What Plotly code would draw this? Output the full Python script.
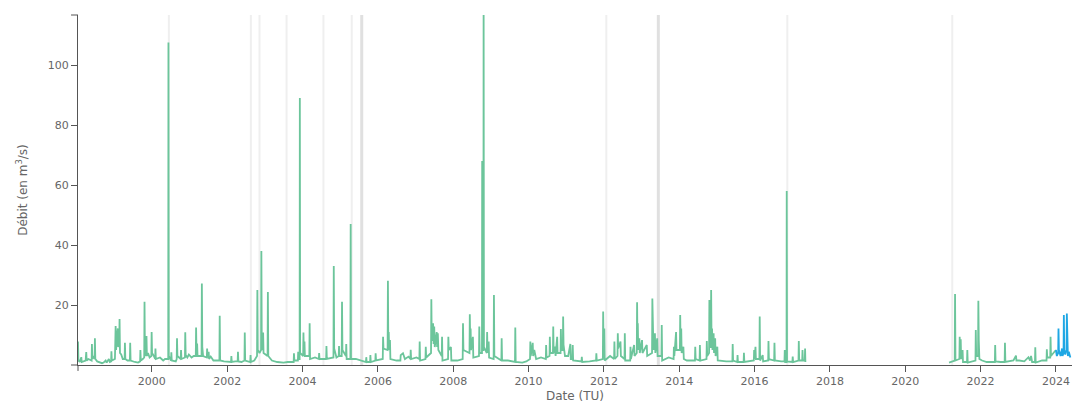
import plotly.graph_objects as go

DATES_OBS = [
    "1998-01-15", "1998-01-19", "1998-02-01", "1998-02-16", "1998-02-20", "1998-03-10",
    "1998-03-30", "1998-04-05", "1998-04-09", "1998-04-25", "1998-05-27", "1998-05-30",
    "1998-06-03", "1998-06-15", "1998-06-25", "1998-06-28", "1998-07-02", "1998-07-20",
    "1998-08-15", "1998-09-05", "1998-09-20", "1998-10-10", "1998-10-20", "1998-11-10",
    "1998-11-20", "1998-12-02", "1998-12-05", "1998-12-09", "1999-01-08", "1999-01-15",
    "1999-01-19", "1999-01-23", "1999-02-05", "1999-02-09", "1999-02-19", "1999-02-22",
    "1999-02-26", "1999-03-10", "1999-03-25", "1999-04-12", "1999-04-15", "1999-04-19",
    "1999-05-10", "1999-06-02", "1999-06-05", "1999-06-09", "1999-07-20", "1999-08-20",
    "1999-09-09", "1999-09-12", "1999-09-16", "1999-10-05", "1999-10-19", "1999-10-22",
    "1999-10-26", "1999-11-07", "1999-11-10", "1999-11-14", "1999-11-25", "1999-12-10",
    "1999-12-27", "1999-12-30", "2000-01-03", "2000-01-20", "2000-02-02", "2000-02-05",
    "2000-02-09", "2000-03-20", "2000-04-20", "2000-05-08", "2000-06-08", "2000-06-10",
    "2000-06-13", "2000-07-05", "2000-07-08", "2000-07-12", "2000-08-20", "2000-08-29",
    "2000-09-01", "2000-09-05", "2000-10-07", "2000-10-10", "2000-10-14", "2000-11-17",
    "2000-11-20", "2000-11-24", "2000-12-10", "2000-12-25", "2001-01-20", "2001-02-10",
    "2001-03-02", "2001-03-05", "2001-03-09", "2001-03-15", "2001-03-19", "2001-04-27",
    "2001-04-30", "2001-05-04", "2001-05-12", "2001-06-17", "2001-06-20", "2001-06-24",
    "2001-07-05", "2001-07-09", "2001-07-25", "2001-08-20", "2001-09-10", "2001-10-17",
    "2001-10-20", "2001-10-24", "2001-12-01", "2002-01-10", "2002-02-07", "2002-02-10",
    "2002-02-14", "2002-03-20", "2002-04-12", "2002-04-15", "2002-04-19", "2002-05-20",
    "2002-06-17", "2002-06-20", "2002-06-24", "2002-08-12", "2002-08-15", "2002-08-19",
    "2002-09-20", "2002-10-17", "2002-10-20", "2002-10-24", "2002-11-10", "2002-11-25",
    "2002-11-28", "2002-12-02", "2002-12-12", "2002-12-15", "2002-12-19", "2003-01-27",
    "2003-01-30", "2003-02-03", "2003-03-10", "2003-05-01", "2003-07-01", "2003-08-10",
    "2003-10-07", "2003-10-10", "2003-10-14", "2003-11-17", "2003-11-20", "2003-11-24",
    "2003-12-04", "2003-12-06", "2003-12-09", "2004-01-07", "2004-01-10", "2004-01-14",
    "2004-01-20", "2004-01-24", "2004-03-07", "2004-03-10", "2004-03-14", "2004-05-01",
    "2004-06-07", "2004-06-10", "2004-06-14", "2004-08-17", "2004-08-20", "2004-08-24",
    "2004-10-27", "2004-10-30", "2004-11-03", "2004-11-25", "2004-12-17", "2004-12-20",
    "2004-12-24", "2005-01-15", "2005-01-18", "2005-01-22", "2005-02-25", "2005-02-28",
    "2005-03-04", "2005-04-09", "2005-04-12", "2005-04-15", "2005-06-01", "2005-07-15",
    "2005-09-07", "2005-09-10", "2005-09-14", "2005-10-17", "2005-10-20", "2005-10-24",
    "2005-12-07", "2005-12-10", "2005-12-14", "2006-02-17", "2006-02-20", "2006-02-24",
    "2006-04-05", "2006-04-08", "2006-04-12", "2006-04-16", "2006-04-20", "2006-04-28",
    "2006-05-02", "2006-07-01", "2006-08-07", "2006-08-10", "2006-09-01", "2006-09-20",
    "2006-10-25", "2006-11-12", "2006-11-15", "2006-11-19", "2007-01-10", "2007-02-07",
    "2007-02-10", "2007-02-14", "2007-04-07", "2007-04-10", "2007-04-14", "2007-05-31",
    "2007-06-03", "2007-06-07", "2007-06-20", "2007-06-25", "2007-07-01", "2007-07-06",
    "2007-07-25", "2007-07-29", "2007-08-05", "2007-08-10", "2007-09-12", "2007-09-15",
    "2007-09-19", "2007-11-12", "2007-11-15", "2007-11-19", "2007-12-10", "2007-12-14",
    "2008-02-10", "2008-04-02", "2008-04-05", "2008-04-09", "2008-06-07", "2008-06-10",
    "2008-06-14", "2008-06-18", "2008-06-22", "2008-07-10", "2008-07-14", "2008-09-07",
    "2008-09-10", "2008-09-14", "2008-10-06", "2008-10-08", "2008-10-11", "2008-10-20",
    "2008-10-22", "2008-10-25", "2008-11-22", "2008-11-25", "2008-11-29", "2008-12-10",
    "2008-12-14", "2009-01-27", "2009-01-30", "2009-02-03", "2009-04-12", "2009-04-15",
    "2009-04-19", "2009-06-15", "2009-08-22", "2009-08-25", "2009-08-29", "2009-11-01",
    "2009-12-10", "2010-01-15", "2010-01-18", "2010-01-22", "2010-02-10", "2010-02-14",
    "2010-02-25", "2010-03-15", "2010-05-01", "2010-06-17", "2010-06-20", "2010-06-24",
    "2010-07-23", "2010-07-26", "2010-07-30", "2010-08-25", "2010-08-28", "2010-09-01",
    "2010-09-10", "2010-09-20", "2010-10-05", "2010-10-09", "2010-11-07", "2010-11-10",
    "2010-11-14", "2010-11-29", "2010-12-02", "2010-12-06", "2010-12-20", "2011-01-20",
    "2011-02-10", "2011-02-14", "2011-03-02", "2011-03-05", "2011-03-09", "2011-05-01",
    "2011-05-29", "2011-06-01", "2011-06-05", "2011-08-15", "2011-10-17", "2011-10-20",
    "2011-10-24", "2011-12-22", "2011-12-25", "2011-12-29", "2012-01-05", "2012-01-09",
    "2012-03-01", "2012-04-09", "2012-04-12", "2012-04-16", "2012-05-12", "2012-05-15",
    "2012-05-19", "2012-06-10", "2012-06-14", "2012-07-19", "2012-07-22", "2012-07-26",
    "2012-09-12", "2012-09-15", "2012-09-19", "2012-10-20", "2012-10-24", "2012-11-15",
    "2012-11-18", "2012-11-22", "2012-11-25", "2012-11-29", "2012-12-10", "2012-12-14",
    "2013-01-05", "2013-01-09", "2013-01-25", "2013-02-20", "2013-02-24", "2013-04-12",
    "2013-04-15", "2013-04-19", "2013-04-22", "2013-04-26", "2013-05-10", "2013-05-14",
    "2013-06-01", "2013-06-05", "2013-07-12", "2013-07-15", "2013-07-19", "2013-09-20",
    "2013-11-07", "2013-11-10", "2013-11-14", "2013-12-01", "2013-12-05", "2014-01-07",
    "2014-01-10", "2014-01-14", "2014-01-20", "2014-01-24", "2014-02-10", "2014-02-14",
    "2014-03-15", "2014-06-02", "2014-06-05", "2014-06-09", "2014-07-17", "2014-07-20",
    "2014-07-24", "2014-09-22", "2014-09-25", "2014-09-29", "2014-10-17", "2014-10-20",
    "2014-10-24", "2014-11-03", "2014-11-06", "2014-11-10", "2014-11-15", "2014-11-19",
    "2014-11-30", "2014-12-04", "2014-12-15", "2014-12-19", "2015-01-05", "2015-01-09",
    "2015-04-01", "2015-05-31", "2015-06-03", "2015-06-07", "2015-07-17", "2015-07-20",
    "2015-07-24", "2015-09-17", "2015-09-20", "2015-09-24", "2015-12-25", "2015-12-28",
    "2016-01-01", "2016-01-10", "2016-01-14", "2016-02-17", "2016-02-20", "2016-02-24",
    "2016-03-20", "2016-03-24", "2016-05-12", "2016-05-15", "2016-05-19", "2016-07-09",
    "2016-07-12", "2016-07-16", "2016-09-15", "2016-10-17", "2016-10-20", "2016-10-24",
    "2016-11-06", "2016-11-08", "2016-11-11", "2017-01-02", "2017-01-05", "2017-01-09",
    "2017-03-02", "2017-03-05", "2017-03-09", "2017-04-07", "2017-04-10", "2017-04-14",
    "2017-05-02", "2017-05-05", "2017-05-08", None, "2021-03-01", "2021-04-10",
    "2021-04-25", "2021-04-28", "2021-05-02", "2021-06-09", "2021-06-12", "2021-06-16",
    "2021-06-22", "2021-06-26", "2021-07-10", "2021-07-14", "2021-08-22", "2021-08-25",
    "2021-08-29", "2021-11-12", "2021-11-15", "2021-11-19", "2021-12-07", "2021-12-10",
    "2021-12-14", "2021-12-20", "2022-01-15", "2022-03-01", "2022-05-19", "2022-05-22",
    "2022-05-26", "2022-07-15", "2022-08-22", "2022-08-25", "2022-08-29", "2022-11-15",
    "2022-12-10", "2022-12-14", "2023-01-10", "2023-03-01", "2023-04-10", "2023-04-25",
    "2023-05-05", "2023-05-15", "2023-06-12", "2023-06-15", "2023-06-19", "2023-08-20",
    "2023-10-02", "2023-10-05", "2023-10-09", "2023-11-07", "2023-11-10", "2023-11-14",
    "2023-12-20", "2024-01-01",
]
FLOW_OBS = [
    7.8, 1.5, 1.0, 2.6, 1.0, 1.2,
    1.5, 4.3, 1.5, 2.0, 1.5, 7.0,
    2.0, 3.0, 2.0, 8.9, 2.0, 1.2,
    1.0, 0.6, 0.8, 1.5, 0.8, 2.0,
    1.0, 1.2, 4.6, 1.5, 2.0, 13.0,
    5.0, 7.0, 12.2, 6.0, 7.0, 15.3,
    4.0, 3.5, 2.0, 2.0, 7.4, 2.0,
    1.5, 1.5, 7.4, 1.5, 1.0, 0.8,
    1.2, 5.0, 1.5, 2.0, 2.5, 21.1,
    4.0, 3.0, 9.7, 3.0, 4.0, 2.5,
    3.0, 11.0, 4.0, 3.0, 2.0, 5.5,
    2.0, 2.5, 1.5, 2.0, 2.0, 107.5,
    3.0, 1.5, 4.2, 1.5, 1.2, 2.0,
    8.9, 3.0, 2.0, 5.0, 2.0, 2.5,
    10.9, 3.3, 2.5, 3.5, 2.5, 3.0,
    3.0, 12.5, 4.0, 7.2, 3.0, 3.0,
    27.2, 6.1, 3.0, 2.5, 5.5, 2.5,
    4.4, 2.0, 2.8, 1.5, 1.5, 1.5,
    16.4, 1.5, 1.2, 1.0, 1.0, 3.0,
    1.0, 1.2, 1.2, 4.4, 1.2, 1.0,
    1.5, 10.8, 1.5, 1.0, 3.3, 1.0,
    1.5, 3.0, 25.0, 5.0, 4.0, 5.0,
    38.0, 6.0, 5.0, 10.8, 4.0, 3.0,
    24.3, 3.0, 1.5, 1.0, 0.8, 1.0,
    1.0, 3.9, 1.5, 1.5, 4.4, 2.0,
    2.0, 89.0, 4.0, 3.0, 10.8, 4.0,
    7.8, 3.0, 3.0, 13.9, 2.0, 2.5,
    2.0, 4.0, 2.0, 2.0, 6.3, 2.0,
    2.5, 33.0, 5.5, 2.5, 3.0, 6.3,
    3.0, 3.0, 21.1, 5.0, 3.0, 7.0,
    2.0, 2.0, 47.0, 2.0, 2.0, 1.5,
    1.0, 2.6, 1.0, 1.0, 3.3, 1.0,
    1.5, 3.9, 1.5, 2.0, 9.4, 5.5,
    5.0, 28.1, 6.0, 11.0, 5.0, 8.3,
    2.0, 1.5, 1.5, 3.3, 3.9, 2.0,
    2.8, 2.0, 5.1, 2.0, 2.5, 2.0,
    7.8, 1.5, 2.0, 6.1, 2.5, 4.0,
    21.9, 8.0, 13.9, 7.0, 12.8, 6.0,
    11.0, 6.0, 10.6, 5.0, 3.0, 9.4,
    1.5, 2.0, 9.4, 5.0, 6.0, 1.5,
    1.5, 2.0, 13.9, 5.0, 4.0, 16.9,
    8.0, 12.2, 5.0, 9.4, 2.5, 3.0,
    12.8, 4.0, 4.0, 68.0, 5.0, 5.0,
    125.0, 6.0, 4.0, 11.0, 4.0, 7.8,
    2.5, 2.0, 23.3, 3.0, 1.5, 8.9,
    1.5, 1.5, 1.0, 12.5, 1.0, 0.8,
    1.2, 2.0, 7.8, 3.0, 7.4, 3.0,
    5.0, 2.0, 2.5, 2.0, 6.7, 2.5,
    3.0, 9.4, 4.0, 4.0, 12.8, 4.0,
    6.1, 3.0, 9.4, 4.0, 4.0, 12.0,
    5.0, 5.0, 16.2, 6.7, 3.0, 3.0,
    7.0, 2.0, 2.0, 6.7, 1.5, 1.2,
    1.2, 2.7, 1.0, 1.2, 1.5, 3.9,
    1.5, 2.0, 17.8, 5.0, 12.2, 1.5,
    3.0, 2.0, 7.8, 2.0, 3.0, 10.6,
    5.5, 7.8, 3.0, 2.0, 10.6, 1.5,
    1.5, 6.1, 2.0, 6.7, 3.0, 4.0,
    20.9, 7.0, 13.9, 5.0, 8.9, 4.0,
    8.3, 4.0, 5.0, 6.7, 3.0, 4.0,
    22.2, 6.0, 12.2, 5.0, 10.6, 4.0,
    8.9, 3.0, 3.0, 13.3, 1.5, 2.5,
    2.0, 6.1, 3.0, 11.0, 5.0, 5.0,
    16.7, 6.0, 12.2, 4.0, 6.1, 2.0,
    1.5, 1.5, 6.1, 2.0, 1.5, 6.7,
    1.5, 2.0, 8.0, 3.0, 4.0, 21.7,
    6.0, 6.0, 25.0, 8.0, 12.2, 5.0,
    10.6, 4.0, 8.9, 3.0, 6.1, 1.5,
    1.2, 1.2, 7.0, 1.5, 1.0, 3.3,
    1.0, 1.0, 4.1, 1.0, 1.5, 5.0,
    2.0, 6.1, 2.0, 2.0, 16.2, 1.5,
    3.3, 1.2, 1.5, 8.0, 2.0, 1.5,
    7.4, 1.5, 1.2, 1.2, 5.0, 1.0,
    1.0, 58.0, 1.2, 1.0, 2.8, 1.0,
    1.5, 8.0, 1.5, 1.5, 5.0, 1.5,
    1.5, 5.5, 1.0, None, 0.8, 1.5,
    1.5, 23.7, 1.5, 2.0, 9.4, 3.0,
    8.6, 2.0, 5.0, 1.0, 1.0, 5.0,
    0.8, 1.5, 11.7, 3.0, 3.0, 21.4,
    8.3, 2.0, 1.5, 1.0, 1.0, 6.7,
    1.2, 1.0, 1.0, 7.4, 1.0, 1.5,
    3.1, 1.5, 1.5, 1.2, 2.6, 1.5,
    3.0, 1.0, 1.0, 5.9, 0.8, 1.5,
    1.5, 5.2, 2.5, 2.5, 9.4, 3.0,
    4.5, 5.0,
]

# blue series (recent data, 2024)
DATES_RECENT = ["2024-01-01", "2024-01-10", "2024-01-23", "2024-01-26", "2024-01-30", "2024-02-15",
                "2024-03-01", "2024-03-05", "2024-03-15", "2024-03-18", "2024-03-22", "2024-04-01",
                "2024-04-13", "2024-04-16", "2024-04-20", "2024-04-26", "2024-05-05", "2024-05-20"]
FLOW_RECENT = [5.0, 3.0, 4.0, 12.2, 5.0, 3.0,
               5.5, 3.0, 4.0, 16.7, 5.0, 3.5,
               5.0, 17.2, 7.8, 3.0, 4.4, 2.5]

# grey vertical markers
VLINE_DATES = ["2000-06-14", "2002-08-18", "2002-11-10", "2003-07-30", "2004-07-22",
               "2005-04-22", "2012-01-25", "2016-11-14", "2021-04-01"]
VLINE_DARK_DATES = ["2005-07-28", "2013-06-12"]

X_TICKS = ["2000-01-01", "2002-01-01", "2004-01-01", "2006-01-01", "2008-01-01", "2010-01-01",
           "2012-01-01", "2014-01-01", "2016-01-01", "2018-01-01", "2020-01-01", "2022-01-01",
           "2024-01-01"]
Y_TICKS = [20, 40, 60, 80, 100]

AXIS_COL = "#555555"
TEXT_COL = "#666666"
FONT = "DejaVu Sans"

fig = go.Figure()

shapes = []
for d in VLINE_DATES:
    shapes.append(dict(type="line", xref="x", yref="paper", x0=d, x1=d, y0=0, y1=1,
                       line=dict(color="#efefef", width=2), layer="below"))
for d in VLINE_DARK_DATES:
    shapes.append(dict(type="line", xref="x", yref="paper", x0=d, x1=d, y0=0, y1=1,
                       line=dict(color="#e0e0e0", width=3), layer="below"))

# d3-style outer ticks at the axis ends
shapes.append(dict(type="line", xref="paper", yref="paper", x0=0, x1=0, y0=0, y1=-0.017,
                   line=dict(color=AXIS_COL, width=1)))
shapes.append(dict(type="line", xref="paper", yref="paper", x0=-0.007, x1=0, y0=1, y1=1,
                   line=dict(color=AXIS_COL, width=1)))
shapes.append(dict(type="line", xref="paper", yref="paper", x0=-0.007, x1=0, y0=0, y1=0,
                   line=dict(color=AXIS_COL, width=1)))

fig.add_trace(go.Scatter(x=DATES_OBS, y=FLOW_OBS, mode="lines", connectgaps=False,
                         line=dict(color="#6cc59b", width=1.8), showlegend=False))
fig.add_trace(go.Scatter(x=DATES_RECENT, y=FLOW_RECENT, mode="lines",
                         line=dict(color="#1ea7e4", width=1.8), showlegend=False))

fig.update_layout(
    width=1074, height=403,
    margin=dict(l=78, r=2, t=15, b=38),
    paper_bgcolor="white", plot_bgcolor="white",
    font=dict(family=FONT, size=11, color=TEXT_COL),
    shapes=shapes,
    showlegend=False,
)
fig.update_xaxes(
    type="date", range=["1998-01-15", "2024-06-05"],
    tickvals=X_TICKS, tickformat="%Y",
    showgrid=False, zeroline=False,
    showline=True, linecolor=AXIS_COL, linewidth=1,
    ticks="outside", ticklen=6, tickcolor=AXIS_COL,
    tickfont=dict(family=FONT, size=11, color=TEXT_COL),
    title=dict(text="Date (TU)", font=dict(family=FONT, size=12, color=TEXT_COL), standoff=7),
    automargin=False,
)
fig.update_yaxes(
    range=[0, 116.7], tickvals=Y_TICKS,
    showgrid=False, zeroline=False,
    showline=True, linecolor=AXIS_COL, linewidth=1,
    ticks="outside", ticklen=6, tickcolor=AXIS_COL,
    tickfont=dict(family=FONT, size=11, color=TEXT_COL),
    title=dict(text="Débit (en m<sup>3</sup>/s)", font=dict(family=FONT, size=12, color=TEXT_COL),
               standoff=17),
    automargin=False,
)

# the page's default body margin would shift the figure by 8px
fig.write_html("out.html", config={"displayModeBar": False},
               post_script="document.body.style.margin='0px';")
